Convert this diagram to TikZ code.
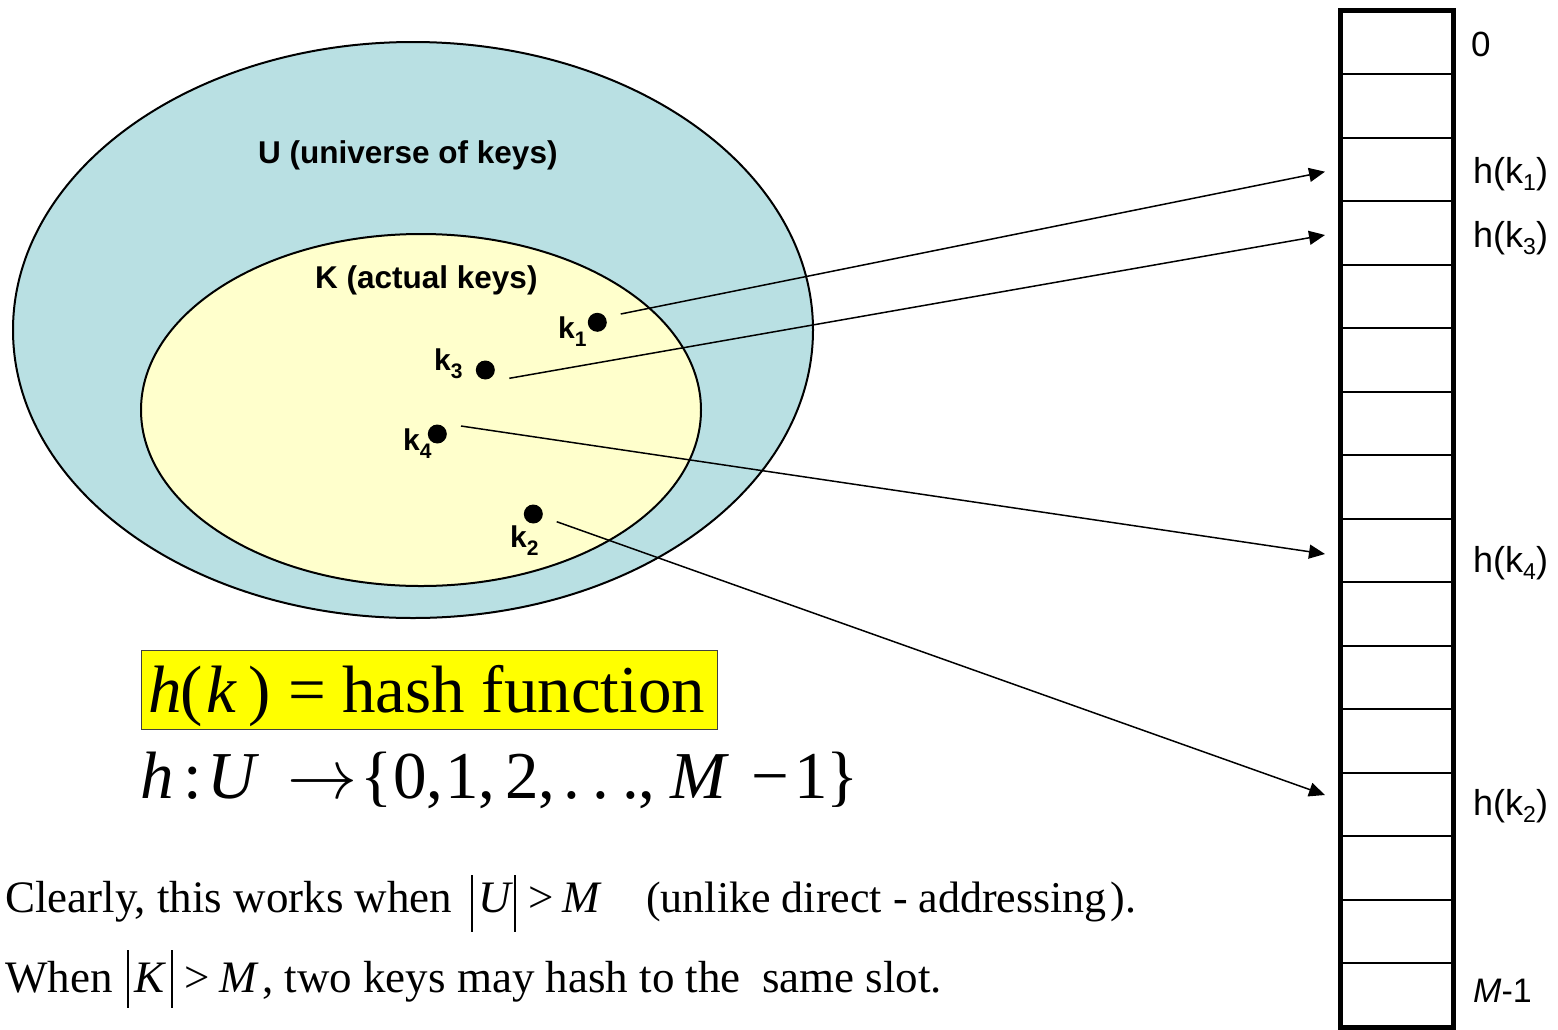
\documentclass[tikz,border=0pt]{standalone}
\usepackage{graphicx}
\usepackage{fontspec}
\setmainfont{Liberation Serif}
\newfontfamily\arialf{Liberation Sans}
\usetikzlibrary{arrows.meta}
\definecolor{ublue}{RGB}{185,224,227}
\definecolor{kyellow}{RGB}{255,255,204}
\definecolor{hyellow}{RGB}{255,255,0}
\newcommand{\ksubx}[1]{\raisebox{-8pt}{\fontsize{21}{21}\selectfont #1}}
\newcommand{\hsubx}[1]{\raisebox{-7pt}{\fontsize{23}{23}\selectfont #1}}
\begin{document}
\begin{tikzpicture}[x=1pt,y=-1pt,
  keydot/.style={circle,fill=black,inner sep=0pt,minimum size=19pt},
  keylbl/.style={anchor=base west,inner sep=0pt,font=\arialf\fontsize{30}{30}\selectfont\bfseries},
  setlbl/.style={anchor=base west,inner sep=0pt,font=\arialf\fontsize{31.5}{31.5}\selectfont\bfseries},
  slotlbl/.style={anchor=base west,inner sep=0pt,font=\arialf\fontsize{36}{36}\selectfont},
  idxlbl/.style={anchor=base west,inner sep=0pt,font=\arialf\fontsize{35}{35}\selectfont},
  mapto/.style={line width=1.5pt,-{Triangle[length=16pt,width=14pt]}},
  bigtxt/.style={anchor=base west,inner sep=0pt,font=\fontsize{67}{67}\selectfont},
  txt/.style={anchor=base west,inner sep=0pt,font=\fontsize{45}{45}\selectfont},
  absbar/.style={line width=1.3pt},
]
\useasboundingbox (0,0) rectangle (1558,1029);
% sets
\draw[fill=ublue,line width=2pt] (413,330) ellipse [x radius=400pt, y radius=288pt];
\draw[fill=kyellow,line width=2pt] (421,410) ellipse [x radius=280pt, y radius=176pt];
\node[setlbl] (ulbl) at (258,163) {U (universe of keys)};
\node[setlbl] (klbl) at (315,288) {K (actual keys)};
% keys
\node[keydot] (k1) at (597.3,322.3) {};
\node[keydot] (k3) at (485.3,370) {};
\node[keydot] (k4) at (437.3,434) {};
\node[keydot] (k2) at (533.3,514) {};
\node[keylbl] (lk1) at (558,338) {k\ksubx{1}};
\node[keylbl] (lk3) at (434,370) {k\ksubx{3}};
\node[keylbl] (lk4) at (403,450) {k\ksubx{4}};
\node[keylbl] (lk2) at (510,547) {k\ksubx{2}};
% table
\foreach \i in {1,...,15} \draw[line width=2pt] (1340.5,{10.5+63.5*\i}) -- (1453,{10.5+63.5*\i});
\draw[line width=5pt] (1340.5,10.5) rectangle (1453,1027);
\node[idxlbl] (i0) at (1471,56) {0};
\node[slotlbl] (h1) at (1473,183) {h(k\hsubx{1})};
\node[slotlbl] (h3) at (1473,247) {h(k\hsubx{3})};
\node[slotlbl] (h4) at (1473,572) {h(k\hsubx{4})};
\node[slotlbl] (h2) at (1473,815) {h(k\hsubx{2})};
\node[idxlbl,font=\arialf\fontsize{34}{34}\selectfont] (im) at (1473,1002) {\textit{M}-1};
% arrows
\coordinate (s1) at (620.7,314);
\coordinate (s3) at (509.3,378.3);
\coordinate (s4) at (461,426);
\coordinate (s2) at (556.7,521.7);
\coordinate (t1) at (1325,171.7);
\coordinate (t3) at (1325,235);
\coordinate (t4) at (1325,554);
\coordinate (t2) at (1325,795);
\draw[mapto] (s1) -- (t1);
\draw[mapto] (s3) -- (t3);
\draw[mapto] (s4) -- (t4);
\draw[mapto] (s2) -- (t2);
% hash function
\node[draw=black!75,fill=hyellow,line width=1pt,minimum width=576pt,minimum height=79pt,inner sep=0pt] (hbox) at (429.5,690) {};
\node[bigtxt] (hd1) at (148,712) {\textit{h}};
\node[bigtxt] (hd2) at (180,712) {(};
\node[bigtxt] (hd3) at (206,712) {\textit{k}};
\node[bigtxt] (hd4) at (248,712) {)};
\node[bigtxt] (hd5) at (288,712) {=};
\node[bigtxt] (hd6) at (342,712) {hash function};
% mapping line
\node[bigtxt] (hm1) at (140,798) {\textit{h}};
\node[bigtxt] (hm2) at (183,798) {:};
\node[bigtxt] (hm3) at (207,798) {\textit{U}};
\node[anchor=base west,inner sep=0pt,font=\normalsize] (hm4) at (287,798) {\scalebox{7}{$\rightarrow$}};
\node[bigtxt] (hm5) at (360,798) {\{};
\node[bigtxt] (hm6) at (393,798) {0,};
\node[bigtxt] (hm7) at (445,798) {1,};
\node[bigtxt] (hm8) at (505,798) {2,};
\node[bigtxt] (hm9) at (563,798) {.\hspace{13pt}.\hspace{13pt}.};
\node[bigtxt] (hm10) at (638,798) {,};
\node[bigtxt] (hm11) at (670,798) {\textit{M}};
\node[bigtxt] (hm12) at (751,798) {−};
\node[bigtxt] (hm13) at (794,798) {1};
\node[bigtxt] (hm14) at (826,798) {\}};
% remarks
\node[txt] (c1) at (5,912) {Clearly, this works when};
\draw[absbar] (472,875) -- (472,932);
\node[txt] (c2) at (478,912) {\textit{U}};
\draw[absbar] (515,875) -- (515,932);
\node[txt] (c3) at (528,912) {>};
\node[txt] (c4) at (562,912) {\textit{M}};
\node[txt,font=\fontsize{44}{45}\selectfont] (c5) at (646,912) {(unlike direct - addressing\hspace{4pt}).};
\node[txt] (w1) at (5,992) {When};
\draw[absbar] (128,950) -- (128,1008);
\node[txt] (w2) at (134,992) {\textit{K}};
\draw[absbar] (172,950) -- (172,1008);
\node[txt] (w3) at (184,992) {>};
\node[txt] (w4) at (219,992) {\textit{M}};
\node[txt] (w5) at (262,992) {, two keys may hash to the\hspace{10pt} same slot.};
\end{tikzpicture}
\end{document}
